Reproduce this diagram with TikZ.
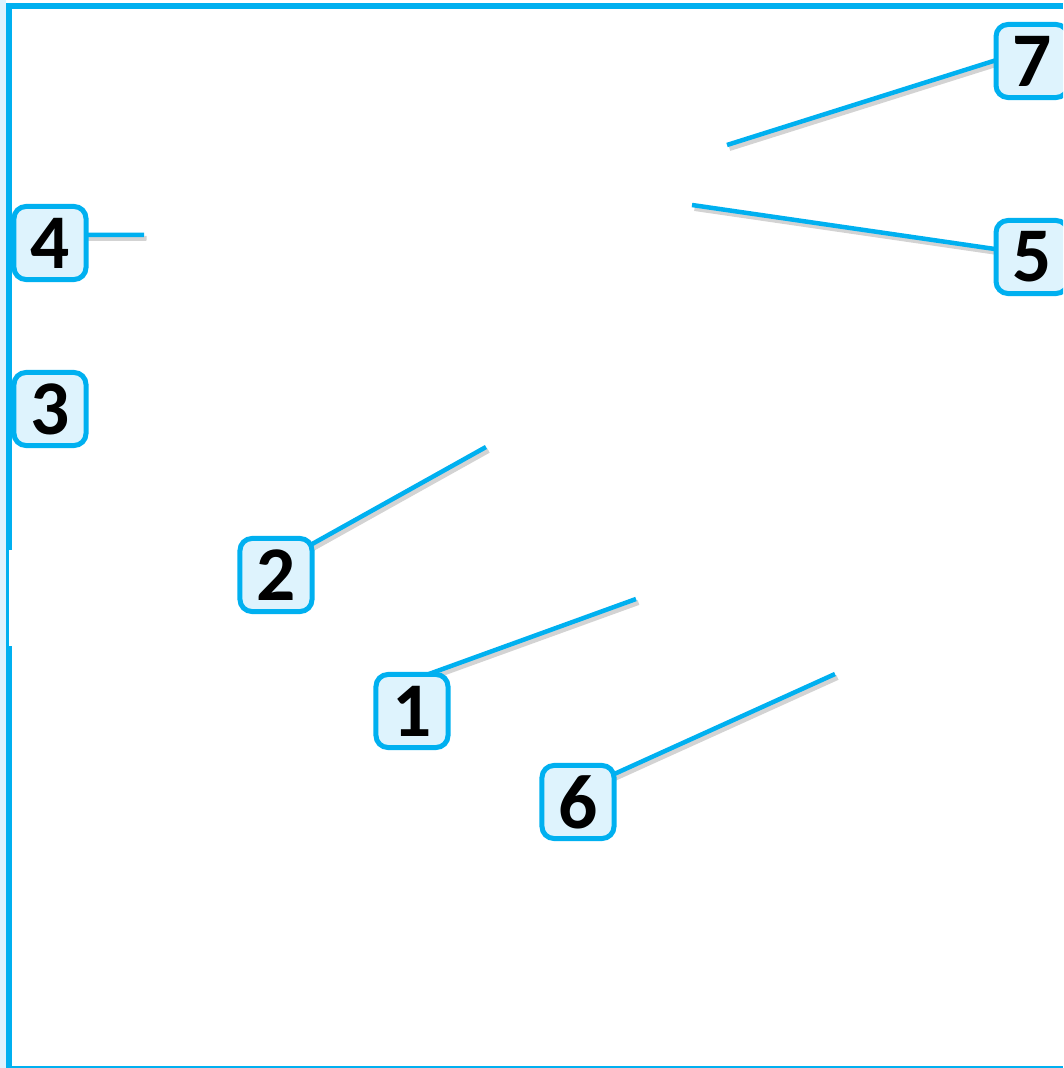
\documentclass[tikz,border=0pt]{standalone}
\usepackage{fontspec}
\setmainfont{Carlito}
\usepackage{tikz}
\usetikzlibrary{positioning, calc, backgrounds}
\definecolor{calloutblue}{HTML}{00B0F0}
\definecolor{calloutfill}{HTML}{DEF3FD}

\begin{document}
\begin{tikzpicture}[
    x=0.01cm, y=-0.01cm,
    callout/.style={draw=calloutblue, line width=0.05cm, rounded corners=0.12cm, fill=calloutfill, minimum width=0.72cm, minimum height=0.73cm, inner sep=0pt, font=\fontsize{22}{24}\selectfont\bfseries},
    lead/.style={draw=calloutblue, line width=0.045cm, shorten >=-0.06cm,
        preaction={draw=black!50, opacity=.35, line width=0.05cm, transform canvas={shift={(0.025cm,-0.035cm)}}}}
]
    \useasboundingbox (0,0) rectangle (1063,1068);
    \clip (0,0) rectangle (1063,1068);

    % Frame
    \fill[calloutfill] (0,0) rectangle (6,1068);
    \fill[calloutblue] (6,3) rectangle (1063,9);
    \fill[calloutblue] (6,3) rectangle (12,1068);
    \fill[calloutblue] (12,1066) rectangle (1063,1068);
    \fill[white] (9,550) rectangle (12,646);

    % Nodes
    \node[callout] (n1) at (412,711) {1};
    \node[callout] (n2) at (276,575) {2};
    \node[callout] (n3) at (50,409) {3};
    \node[callout] (n4) at (50,243) {4};
    \node[callout] (n5) at (1032,257) {5};
    \node[callout] (n6) at (578,802) {6};
    \node[callout] (n7) at (1032,61) {7};

    % Pointer ends
    \coordinate (p1) at (636,599);
    \coordinate (p2) at (486,447);
    \coordinate (p4) at (144,235);
    \coordinate (p5) at (692,205);
    \coordinate (p6) at (835,674);
    \coordinate (p7) at (727,145);

    % Connections
    \begin{scope}[on background layer]
        \draw[lead] (p1) -- (n1.60);
        \draw[lead] (p2) -- (n2.40);
        \draw[lead] (p4) -- (n4.12);
        \draw[lead] (p5) -- (n5.168);
        \draw[lead] (p6) -- (n6.37);
        \draw[lead] (p7) -- (n7.west);
    \end{scope}
\end{tikzpicture}
\end{document}
